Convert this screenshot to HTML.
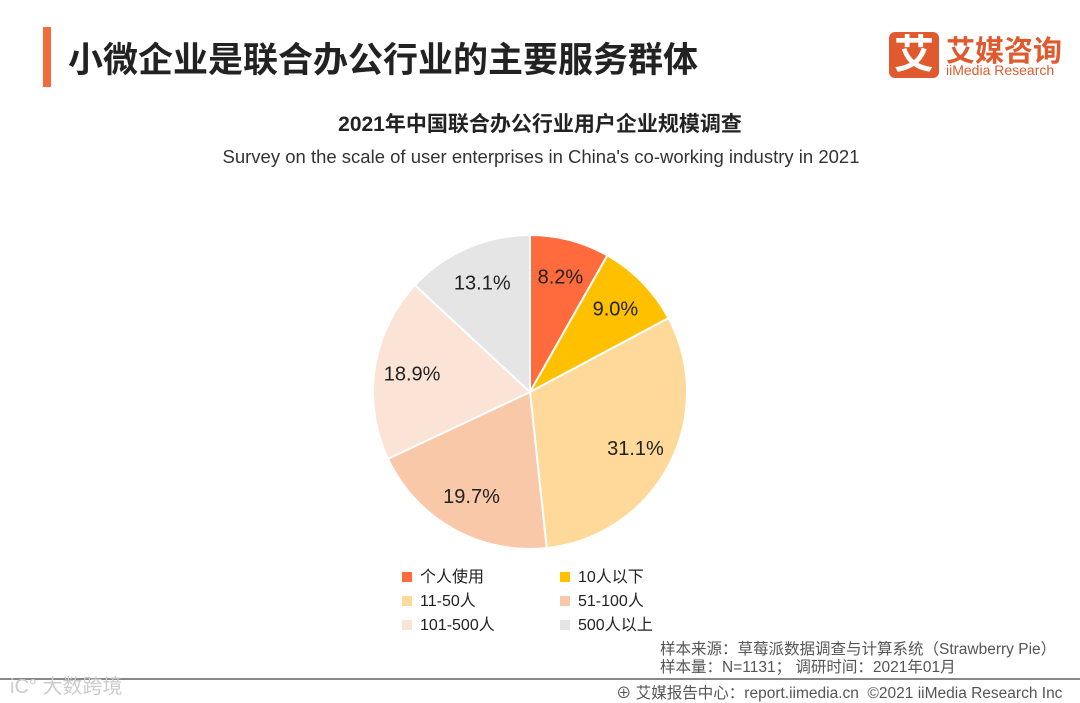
<!DOCTYPE html>
<html><head><meta charset="utf-8"><style>
body{margin:0;width:1080px;height:702px;background:#fff;font-family:"Liberation Sans","Noto Sans CJK SC",sans-serif;position:relative;overflow:hidden}
.a{position:absolute;white-space:nowrap}
</style></head><body>
<div class="a" style="left:43px;top:27px;width:8px;height:60px;background:#F26B3A"></div>
<div class="a" style="left:68px;top:32px;font-size:35px;font-weight:bold;color:#222">小微企业是联合办公行业的主要服务群体</div>
<div class="a" style="left:889px;top:32px;width:50px;height:46px;background:#E05A2E;border-radius:6px;color:#fff;font-size:40px;font-weight:bold;text-align:center;line-height:46px">艾</div>
<div class="a" style="left:946px;top:28px;font-size:29px;font-weight:bold;color:#E05A2E">艾媒咨询</div>
<div class="a" style="left:946px;top:62px;font-size:14px;color:#E05A2E">iiMedia Research</div>
<div class="a" style="left:0;width:1080px;text-align:center;top:108px;font-size:21px;font-weight:bold;color:#222">2021年中国联合办公行业用户企业规模调查</div>
<div class="a" style="left:0;width:1082px;text-align:center;top:146px;font-size:18.5px;color:#333">Survey on the scale of user enterprises in China's co-working industry in 2021</div>
<svg class="a" style="left:0;top:0" width="1080" height="702" id="pie"></svg>
<div id="legend"></div>
<div class="a" style="left:660px;top:641px;font-size:15.5px;color:#555;line-height:18px">样本来源：草莓派数据调查与计算系统（Strawberry Pie）<br>样本量：N=1131； 调研时间：2021年01月</div>
<div class="a" style="left:0;top:678px;width:1080px;height:2px;background:#888"></div>
<div class="a" style="left:10px;top:670px;font-size:20px;color:#ccc">iC° 大数跨境</div>
<div class="a" style="left:616px;top:681px;font-size:15.5px;color:#555">⊕ 艾媒报告中心：report.iimedia.cn &nbsp;©2021 iiMedia Research Inc</div>
<script>
const categories=["个人使用","10人以下","11-50人","51-100人","101-500人","500人以上"];
const values=[8.2,9.0,31.1,19.7,18.9,13.1];
const labels=["8.2%","9.0%","31.1%","19.7%","18.9%","13.1%"];
const colors=["#FF6B3D","#FFC000","#FFD999","#F8C8A8","#FBE3D6","#E5E5E5"];
const cx=530,cy=392,r=157,ns="http://www.w3.org/2000/svg";
const svg=document.getElementById('pie');
const tot=values.reduce((a,b)=>a+b,0);
let acc=0;
values.forEach((v,i)=>{
 const a0=acc/tot*2*Math.PI-Math.PI/2;acc+=v;const a1=acc/tot*2*Math.PI-Math.PI/2;
 const p=document.createElementNS(ns,'path');
 const lg=(a1-a0)>Math.PI?1:0;
 p.setAttribute('d',`M${cx},${cy}L${cx+r*Math.cos(a0)},${cy+r*Math.sin(a0)}A${r},${r} 0 ${lg} 1 ${cx+r*Math.cos(a1)},${cy+r*Math.sin(a1)}Z`);
 p.setAttribute('fill',colors[i]);p.setAttribute('stroke','#fff');p.setAttribute('stroke-width','2');
 
 
 svg.appendChild(p);
 const am=(a0+a1)/2;
 const t=document.createElementNS(ns,'text');
 t.setAttribute('x',cx+0.76*r*Math.cos(am));t.setAttribute('y',cy+0.76*r*Math.sin(am)+7);
 t.setAttribute('text-anchor','middle');t.setAttribute('font-size','20');t.setAttribute('fill','#222');
 t.setAttribute('font-family','Liberation Sans, sans-serif');
 t.textContent=labels[i];
 
 
 svg.appendChild(t);
});
const lg=document.getElementById('legend');
categories.forEach((c,i)=>{
 const d=document.createElement('div');d.className='a';
 d.style.left=(i%2?560:402)+'px';d.style.top=(563+Math.floor(i/2)*24)+'px';
 d.style.fontSize='16px';d.style.color='#222';
 d.innerHTML=`<span style="display:inline-block;width:10px;height:10px;background:${colors[i]};margin-right:8px"></span>${c}`;
 
 
 lg.appendChild(d);
});
</script>
</body></html>
